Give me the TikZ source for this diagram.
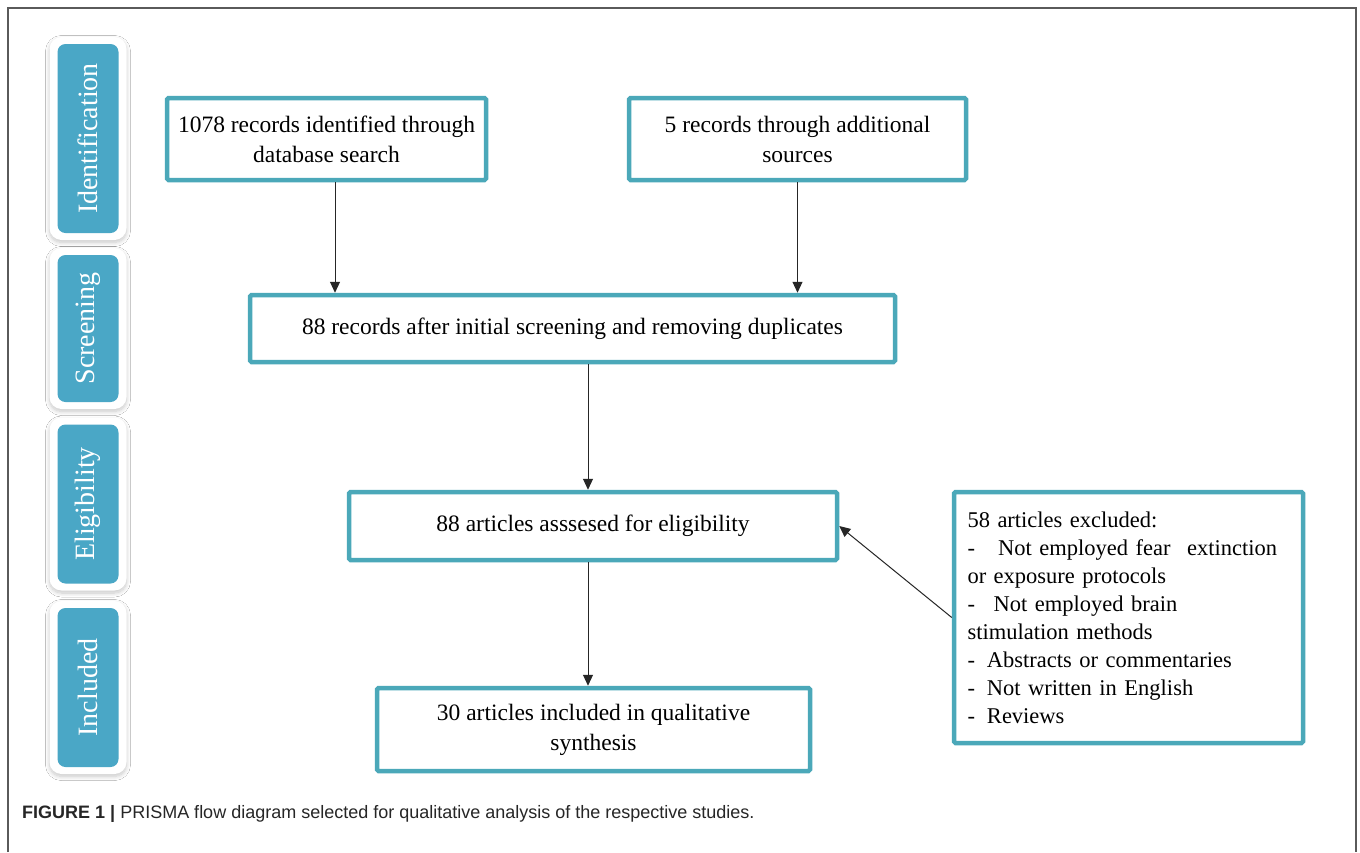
\documentclass[tikz,border=0pt]{standalone}
\usepackage{fontspec}
\setmainfont{Liberation Serif}
\newfontfamily\capfont{Liberation Sans}
\usetikzlibrary{arrows.meta,shadows.blur,calc}
\definecolor{tabblue}{HTML}{4AA7C6}
\definecolor{boxteal}{HTML}{4BA8B9}
\definecolor{framegrey}{HTML}{5A5A5A}
\begin{document}
\begin{tikzpicture}[x=1pt,y=-1pt,
  stageouter/.style={fill=white,rounded corners=12pt,
    blur shadow={shadow xshift=0pt,shadow yshift=-2.5pt,shadow blur radius=4pt,shadow blur steps=10,shadow opacity=22},
    minimum width=77pt,inner sep=0pt},
  stagebox/.style={fill=tabblue,rounded corners=8pt,minimum width=61pt,inner sep=0pt},
  stagetext/.style={rotate=90,text=white,font=\fontsize{28}{30}\selectfont},
  flowbox/.style={draw=boxteal,line width=4.5pt,fill=white,rounded corners=1.5pt,
    align=center,inner sep=0pt,font=\fontsize{23.5}{30}\selectfont},
  arr/.style={draw=black!85,line width=1pt,-{Triangle[length=11pt,width=10pt]}}]
\useasboundingbox (0,0) rectangle (1360,852);
\fill[white] (0,0) rectangle (1360,852);
% frame
\draw[framegrey,line width=1.3pt] (8,852) -- (8,8) -- (1356,8) -- (1356,852);
% stage tabs
\node[stageouter,minimum height=203pt] (oid) at (88,138.5) {};
\node[stagebox,minimum height=189pt] (tid) at (88,138.5) {};
\node[stagetext] (tidl) at (tid.center) {Identification};
\node[stageouter,minimum height=161pt] (osc) at (88,328.5) {};
\node[stagebox,minimum height=147pt] (tsc) at (88,328.5) {};
\node[stagetext] (tscl) at (tsc.center) {Screening};
\node[stageouter,minimum height=173pt] (oel) at (88,504) {};
\node[stagebox,minimum height=159pt] (tel) at (88,504) {};
\node[stagetext] (tell) at (tel.center) {Eligibility};
\node[stageouter,minimum height=173pt] (oin) at (88,687.5) {};
\node[stagebox,minimum height=159pt] (tin) at (88,687.5) {};
\node[stagetext] (tinl) at (tin.center) {Included};
% boxes
\node[flowbox,minimum width=319pt,minimum height=82pt] (db) at (326.5,139)
  {1078 records identified through\\database search};
\node[flowbox,minimum width=337pt,minimum height=82pt] (add) at (797.5,139)
  {5 records through additional\\sources};
\node[flowbox,minimum width=645pt,minimum height=67pt] (scr) at (572.5,328.5)
  {88 records after initial screening and removing duplicates};
\node[flowbox,minimum width=488pt,minimum height=68pt] (elig) at (593,526)
  {88 articles asssesed for eligibility};
\node[flowbox,minimum width=349pt,minimum height=251pt,align=left,text width=322pt,
  font=\fontsize{22.5}{28}\selectfont] (exc) at (1128.5,617.5)
  {58 articles excluded:\\
   -\hspace{0.7em} Not employed fear\hspace{0.4em} extinction\\
   or exposure protocols\\
   -\hspace{0.5em} Not employed brain\\
   stimulation methods\\
   -\hspace{0.2em} Abstracts or commentaries\\
   -\hspace{0.2em} Not written in English\\
   -\hspace{0.2em} Reviews};
\node[flowbox,minimum width=433pt,minimum height=83pt] (inc) at (593.5,729.5)
  {30 articles included in qualitative\\synthesis};
% arrow columns
\coordinate (c1) at (335,0);
\coordinate (c3) at (588,0);
\draw[arr] (db.south -| c1) -- (scr.north -| c1);
\draw[arr] (add.south) -- (scr.north -| add.south);
\draw[arr] (scr.south -| c3) -- (elig.north -| c3);
\draw[arr] (elig.south -| c3) -- (inc.north -| c3);
\draw[arr] (exc.west) -- (elig.east);
% caption
\node[anchor=base west,inner sep=0pt,font=\capfont\fontsize{18}{22}\selectfont,text=black!85] (cap) at (22,818)
  {\textbf{FIGURE 1 |} PRISMA flow diagram selected for qualitative analysis of the respective studies.};
\end{tikzpicture}
\end{document}
